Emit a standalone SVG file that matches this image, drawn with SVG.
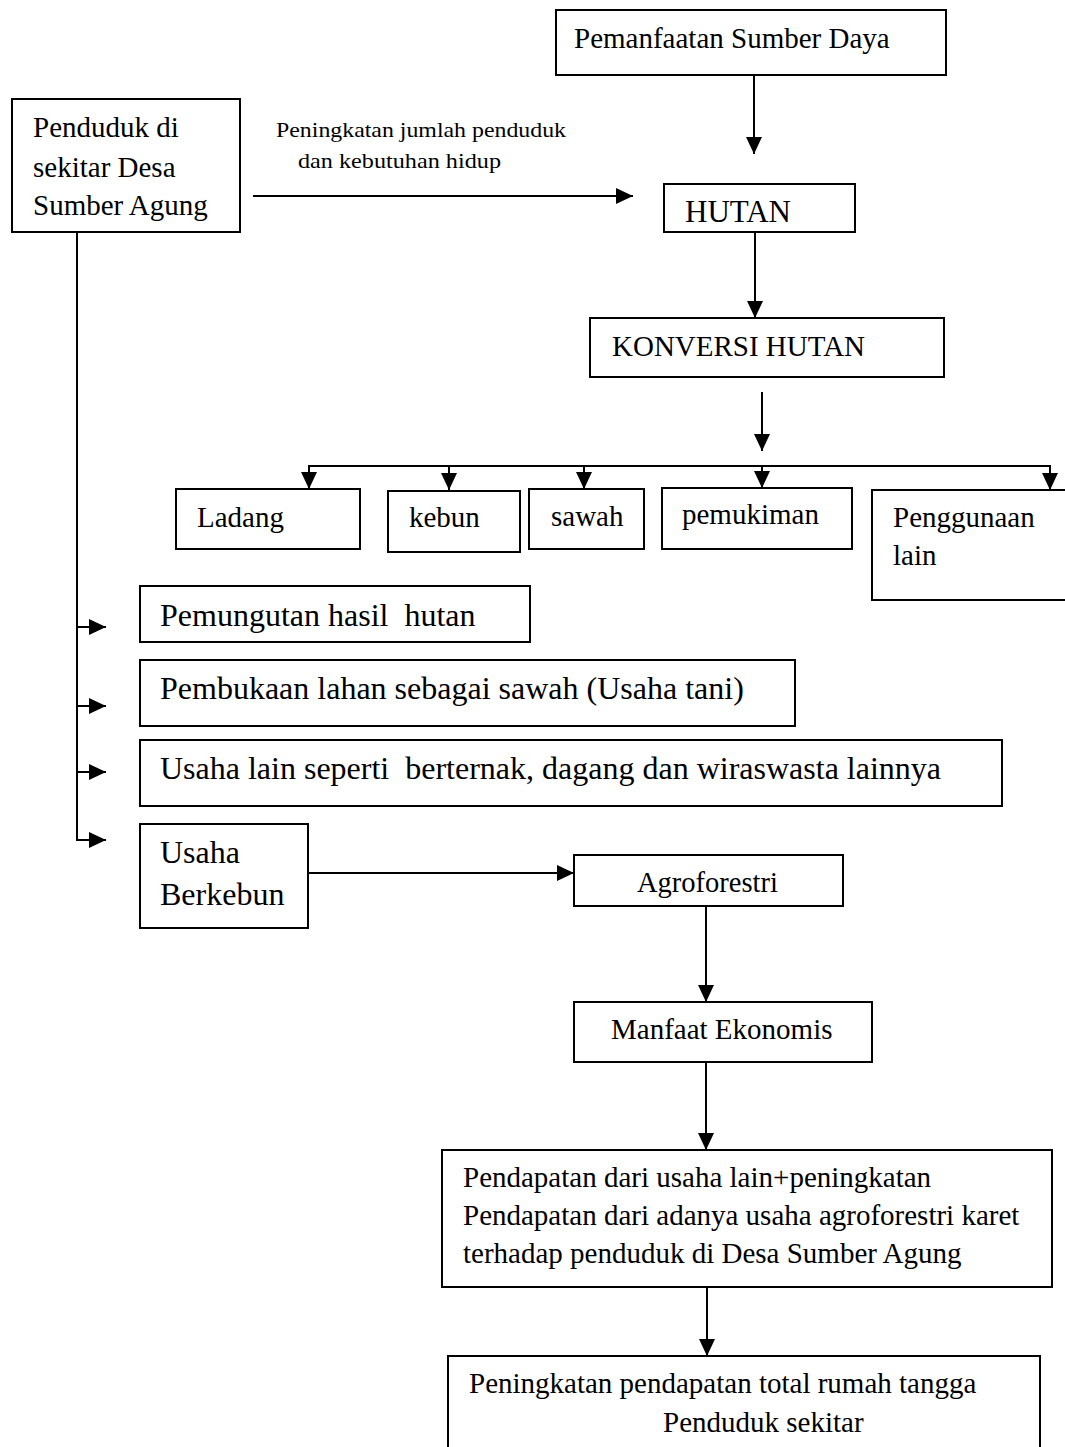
<svg xmlns="http://www.w3.org/2000/svg" width="1065" height="1447" viewBox="0 0 1065 1447">
<style>
rect{fill:#fff;stroke:#000;stroke-width:2}
text{font-family:"Liberation Serif","Times New Roman",serif;fill:#000;white-space:pre}
.t29{font-size:29px}
.t32{font-size:32px}
.t31{font-size:31px}
.lbl{font-size:22px}
line{stroke:#000;stroke-width:2;fill:none}
</style>
<defs>
<marker id="ah" markerUnits="userSpaceOnUse" markerWidth="17" markerHeight="16" refX="17" refY="8" orient="auto">
<path d="M0,0 L17,8 L0,16 z" fill="#000"/>
</marker>
</defs>
<rect x="0" y="0" width="1065" height="1447" style="stroke:none"/>

<g id="connectors">
<line x1="754" y1="75" x2="754" y2="154" marker-end="url(#ah)"/>
<line x1="253" y1="196" x2="633" y2="196" marker-end="url(#ah)"/>
<line x1="755" y1="232" x2="755" y2="318" marker-end="url(#ah)"/>
<line x1="762" y1="392" x2="762" y2="451" marker-end="url(#ah)"/>
<line x1="308" y1="466" x2="1051" y2="466"/>
<line x1="309" y1="466" x2="309" y2="489" marker-end="url(#ah)"/>
<line x1="449" y1="466" x2="449" y2="490" marker-end="url(#ah)"/>
<line x1="584" y1="466" x2="584" y2="489" marker-end="url(#ah)"/>
<line x1="762" y1="466" x2="762" y2="488" marker-end="url(#ah)"/>
<line x1="1050" y1="466" x2="1050" y2="490" marker-end="url(#ah)"/>
<line x1="77" y1="232" x2="77" y2="841"/>
<line x1="76" y1="627" x2="106" y2="627" marker-end="url(#ah)"/>
<line x1="76" y1="706" x2="106" y2="706" marker-end="url(#ah)"/>
<line x1="76" y1="772" x2="106" y2="772" marker-end="url(#ah)"/>
<line x1="76" y1="840" x2="106" y2="840" marker-end="url(#ah)"/>
<line x1="308" y1="873" x2="574" y2="873" marker-end="url(#ah)"/>
<line x1="706" y1="906" x2="706" y2="1002" marker-end="url(#ah)"/>
<line x1="706" y1="1062" x2="706" y2="1150" marker-end="url(#ah)"/>
<line x1="707" y1="1287" x2="707" y2="1356" marker-end="url(#ah)"/>
</g>

<g id="label-peningkatan">
<text class="lbl" x="276" y="137" textLength="290" lengthAdjust="spacingAndGlyphs">Peningkatan jumlah penduduk</text>
<text class="lbl" x="298" y="168" textLength="203" lengthAdjust="spacingAndGlyphs">dan kebutuhan hidup</text>
</g>

<g id="node-pemanfaatan">
<rect x="556" y="10" width="390" height="65"/>
<text class="t29" x="574" y="48">Pemanfaatan Sumber Daya</text>
</g>

<g id="node-penduduk">
<rect x="12" y="99" width="228" height="133"/>
<text class="t29" x="33" y="137">Penduduk di</text>
<text class="t29" x="33" y="177">sekitar Desa</text>
<text class="t29" x="33" y="215">Sumber Agung</text>
</g>

<g id="node-hutan">
<rect x="664" y="184" width="191" height="48"/>
<text class="t31" x="685" y="222">HUTAN</text>
</g>

<g id="node-konversi">
<rect x="590" y="318" width="354" height="59"/>
<text class="t29" x="612" y="356">KONVERSI HUTAN</text>
</g>

<g id="node-ladang">
<rect x="176" y="489" width="184" height="60"/>
<text class="t29" x="197" y="527">Ladang</text>
</g>
<g id="node-kebun">
<rect x="388" y="491" width="132" height="61"/>
<text class="t29" x="409" y="527">kebun</text>
</g>
<g id="node-sawah">
<rect x="529" y="489" width="115" height="60"/>
<text class="t29" x="551" y="526">sawah</text>
</g>
<g id="node-pemukiman">
<rect x="662" y="488" width="190" height="61"/>
<text class="t29" x="682" y="524">pemukiman</text>
</g>
<g id="node-penggunaan">
<rect x="872" y="490" width="200" height="110"/>
<text class="t29" x="893" y="527">Penggunaan</text>
<text class="t29" x="893" y="565">lain</text>
</g>

<g id="node-pemungutan">
<rect x="140" y="586" width="390" height="56"/>
<text class="t32" x="160" y="626">Pemungutan hasil  hutan</text>
</g>
<g id="node-pembukaan">
<rect x="140" y="660" width="655" height="66"/>
<text class="t32" x="160" y="699">Pembukaan lahan sebagai sawah (Usaha tani)</text>
</g>
<g id="node-usaha-lain">
<rect x="140" y="740" width="862" height="66"/>
<text class="t32" x="160" y="779">Usaha lain seperti  berternak, dagang dan wiraswasta lainnya</text>
</g>
<g id="node-berkebun">
<rect x="140" y="824" width="168" height="104"/>
<text class="t32" x="160" y="863">Usaha</text>
<text class="t32" x="160" y="905">Berkebun</text>
</g>

<g id="node-agroforestri">
<rect x="574" y="855" width="269" height="51"/>
<text class="t29" x="637" y="892" style="font-size:28.5px">Agroforestri</text>
</g>
<g id="node-manfaat">
<rect x="574" y="1002" width="298" height="60"/>
<text class="t29" x="611" y="1039">Manfaat Ekonomis</text>
</g>
<g id="node-pendapatan">
<rect x="442" y="1150" width="610" height="137"/>
<text class="t29" x="463" y="1187">Pendapatan dari usaha lain+peningkatan</text>
<text class="t29" x="463" y="1225">Pendapatan dari adanya usaha agroforestri karet</text>
<text class="t29" x="463" y="1263">terhadap penduduk di Desa Sumber Agung</text>
</g>
<g id="node-peningkatan">
<rect x="448" y="1356" width="592" height="100"/>
<text class="t29" x="469" y="1393">Peningkatan pendapatan total rumah tangga</text>
<text class="t29" x="663" y="1432">Penduduk sekitar</text>
</g>
</svg>
